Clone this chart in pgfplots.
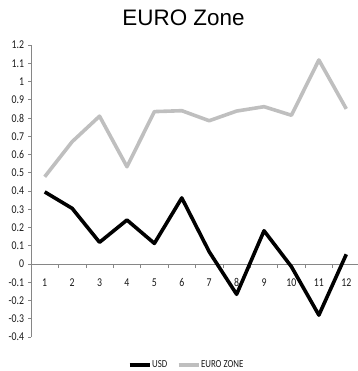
\documentclass[border=0pt]{standalone}
\usepackage{fontspec}
\setmainfont{Carlito}
\newfontfamily\titlefont{Liberation Sans}
\usepackage{graphicx}
\usepackage{pgfplots}
\pgfplotsset{compat=1.18}
\definecolor{eurogray}{RGB}{191,191,191}
\definecolor{axisgray}{RGB}{134,134,134}
\definecolor{labelcol}{RGB}{25,25,25}
% narrow setting of the small chart texts
\newcommand{\narrow}[1]{\scalebox{0.82}[1]{#1}}
\begin{document}
\begin{tikzpicture}
\useasboundingbox (0bp,0bp) rectangle (358bp,371bp);
\node[font=\titlefont\fontsize{22.5}{26}\selectfont, anchor=base] at (183.5bp,345bp) {EURO Zone};
\begin{axis}[
  at={(31bp,34bp)}, anchor=south west,
  scale only axis, width=329bp, height=292bp,
  xmin=0.5, xmax=12.5, ymin=-0.4, ymax=1.2,
  axis y line=left, axis x line=middle,
  axis line style={axisgray, line width=0.6bp, -},
  xtick={1,...,12},
  major x tick style={draw=none},
  minor xtick={1.5,2.5,...,11.5},
  minor x tick style={axisgray, line width=0.6bp},
  minor tick length=4bp,
  ytick={-0.4,-0.3,...,1.21},
  y tick style={axisgray, line width=0.6bp},
  major tick length=3bp,
  tick align=outside,
  /pgf/number format/assume math mode=true,
  /pgf/number format/fixed, /pgf/number format/precision=1,
  xticklabel={\narrow{\pgfmathprintnumber{\tick}}},
  yticklabel={\narrow{\pgfmathprintnumber{\tick}}},
  tick label style={font=\fontsize{12}{14}\selectfont, text=labelcol},
  xticklabel style={yshift=-8bp},
  yticklabel style={xshift=-0.5bp},
  clip=false,
  legend columns=2,
  legend style={at={(0.471,-0.096)}, anchor=center, draw=none, fill=none,
    font=\fontsize{10.8}{12}\selectfont, inner sep=0pt,
    nodes={inner sep=0.6bp, text=labelcol},
    /tikz/every even column/.append style={column sep=9bp}},
  legend cell align=left,
  legend image code/.code={\draw[#1] (0bp,0bp) -- (20bp,0bp);},
]
\addplot[black, line width=3.6bp, line join=round] coordinates {
  (1,0.395) (2,0.305) (3,0.119) (4,0.241) (5,0.113) (6,0.362)
  (7,0.067) (8,-0.166) (9,0.182) (10,-0.015) (11,-0.280) (12,0.053)};
\addlegendentry{\narrow{USD}}
\addplot[eurogray, line width=3.6bp, line join=round] coordinates {
  (1,0.478) (2,0.670) (3,0.810) (4,0.533) (5,0.835) (6,0.840)
  (7,0.785) (8,0.838) (9,0.862) (10,0.815) (11,1.118) (12,0.850)};
\addlegendentry{\narrow{EURO ZONE}}
\end{axis}
\end{tikzpicture}
\end{document}
